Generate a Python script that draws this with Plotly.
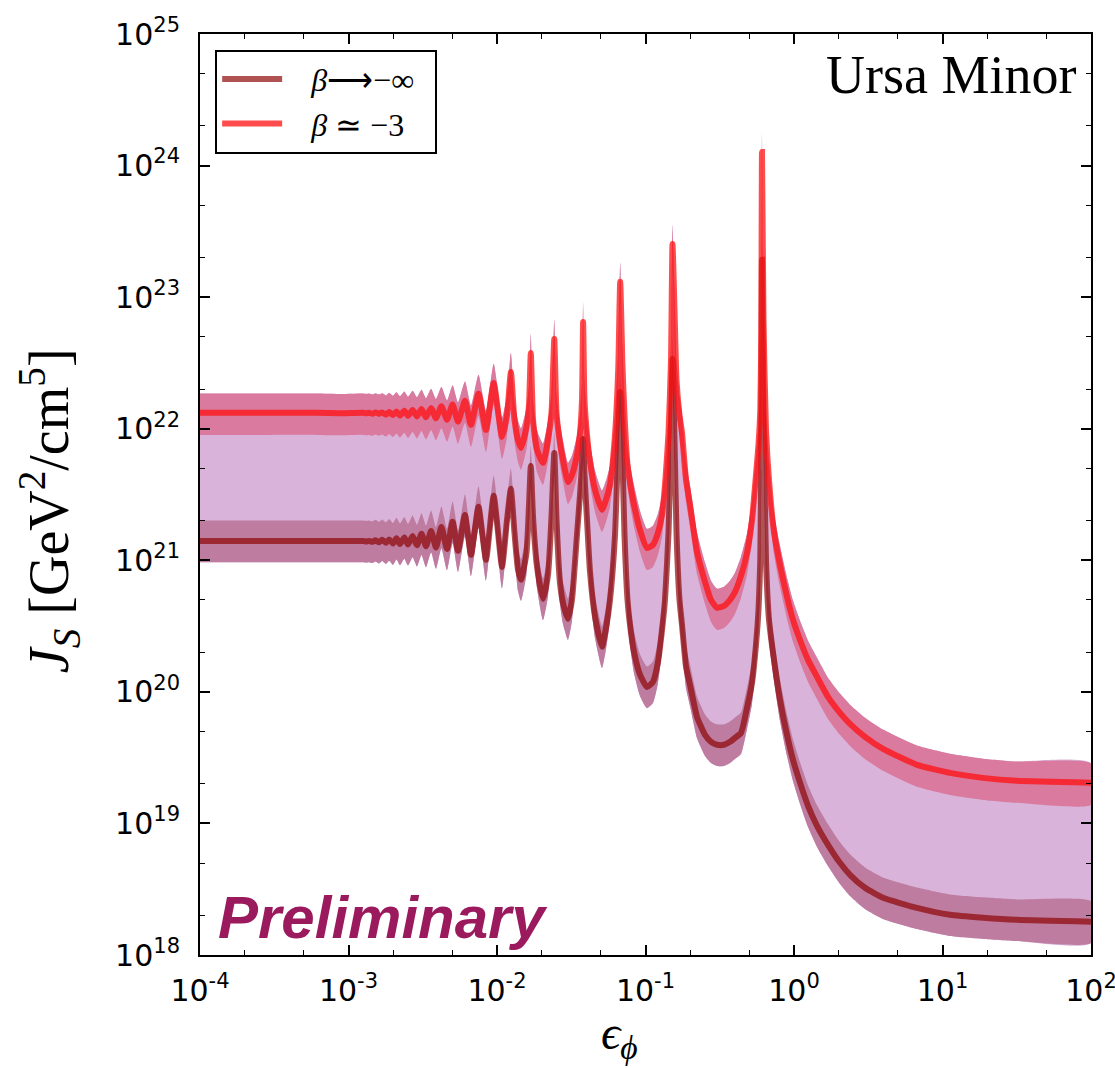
import plotly.graph_objects as go

# Sampling points in epsilon_phi (shared by both curves)
eps_phi = [1e-4, 3e-4, 6e-4, 9e-4, 1.26e-3, 1.31e-3, 1.38e-3, 1.45e-3, 1.52e-3, 1.605e-3,
           1.684e-3, 1.789e-3, 1.877e-3, 1.994e-3, 2.104e-3, 2.222e-3, 2.376e-3, 2.516e-3,
           2.702e-3, 2.892e-3, 3.102e-3, 3.325e-3, 3.599e-3, 3.883e-3, 4.222e-3, 4.606e-3,
           5.024e-3, 5.463e-3, 6.087e-3, 6.68e-3, 7.505e-3, 8.43e-3, 9.50e-3, 1.081e-2,
           1.168e-2, 1.240e-2, 1.311e-2, 1.385e-2, 1.451e-2, 1.580e-2, 1.643e-2, 1.689e-2,
           1.748e-2, 1.860e-2, 2.041e-2, 2.205e-2, 2.328e-2, 2.431e-2, 2.516e-2, 2.655e-2,
           2.782e-2, 3.006e-2, 3.198e-2, 3.456e-2, 3.622e-2, 3.736e-2, 3.80e-2, 3.883e-2,
           4.037e-2, 4.229e-2, 4.570e-2, 5.094e-2, 5.42e-2, 5.767e-2, 6.232e-2, 6.559e-2,
           6.755e-2, 7.0e-2, 7.221e-2, 7.564e-2, 7.862e-2, 8.37e-2, 9.18e-2, 0.1023, 0.1123,
           0.1214, 0.1292, 0.1353, 0.1429, 0.1485, 0.1520, 0.1568, 0.1617, 0.1694, 0.1761,
           0.1874, 0.1994, 0.2222, 0.2516, 0.2761, 0.3030, 0.3378, 0.3707, 0.4006, 0.4396,
           0.4826, 0.5215, 0.5548, 0.5767, 0.5931, 0.6023, 0.6088, 0.6231, 0.6477, 0.6786,
           0.7333, 0.8050, 0.8973, 0.9847, 1.098, 1.243, 1.429, 1.694, 2.04, 2.383, 3.007,
           3.974, 6.735, 11.23, 18.74, 31.74, 100]

# J_S for beta -> -infinity
js_beta_inf = [1.40e21, 1.40e21, 1.40e21, 1.40e21, 1.40e21, 1.39e21, 1.40e21, 1.38e21, 1.42e21,
               1.37e21, 1.43e21, 1.36e21, 1.44e21, 1.34e21, 1.47e21, 1.33e21, 1.49e21, 1.32e21,
               1.53e21, 1.30e21, 1.59e21, 1.28e21, 1.67e21, 1.25e21, 1.79e21, 1.22e21, 1.96e21,
               1.18e21, 2.21e21, 1.10e21, 2.55e21, 1.01e21, 3.09e21, 8.9e20, 2.03e21, 3.49e21,
               1.62e21, 8.45e20, 7.1e20, 1.14e21, 2.64e21, 5.21e21, 2.14e21, 8.9e20, 5.09e20,
               7.74e20, 2.14e21, 6.55e21, 2.03e21, 6.74e20, 4.75e20, 3.59e20, 5.0e20, 1.56e21,
               3.14e21, 5.31e21, 8.37e21, 4.46e21, 2.03e21, 8.17e20, 3.72e20, 2.2e20, 3.06e20,
               5.0e20, 1.56e21, 8.2e21, 1.90e22, 5.79e21, 1.56e21, 5.0e20, 3.23e20, 2.01e20,
               1.35e20, 1.09e20, 1.19e20, 1.69e20, 2.96e20, 5.0e20, 1.62e21, 8.2e21, 3.39e22,
               8.2e21, 1.62e21, 5.0e20, 3.23e20, 1.55e20, 1.13e20, 6.46e19, 4.71e19, 4.17e19,
               3.96e19, 3.96e19, 4.17e19, 4.47e19, 4.88e19, 7.56e19, 1.17e20, 2.28e20, 4.2e20,
               1.01e21, 6.9e21, 1.92e23, 1.17e22, 1.01e21, 3.53e20, 1.75e20, 8.7e19, 4.71e19,
               3.04e19, 2.04e19, 1.36e19, 9.6e18, 6.88e18, 5.02e18, 4.07e18, 3.24e18, 2.72e18,
               2.28e18, 2.02e18, 1.92e18, 1.85e18, 1.79e18]

# J_S for beta ~ -3
js_beta_3 = [1.32e22, 1.32e22, 1.32e22, 1.31e22, 1.32e22, 1.31e22, 1.32e22, 1.30e22, 1.33e22,
             1.30e22, 1.33e22, 1.28e22, 1.34e22, 1.27e22, 1.35e22, 1.26e22, 1.37e22, 1.25e22,
             1.39e22, 1.24e22, 1.41e22, 1.22e22, 1.44e22, 1.20e22, 1.48e22, 1.17e22, 1.53e22,
             1.13e22, 1.63e22, 1.07e22, 1.84e22, 9.8e21, 2.23e22, 8.66e21, 1.27e22, 2.70e22,
             1.17e22, 8.2e21, 7.15e21, 1.03e22, 1.52e22, 3.77e22, 1.17e22, 6.9e21, 5.5e21,
             8.2e21, 1.32e22, 4.81e22, 1.32e22, 7.8e21, 5.79e21, 3.94e21, 4.46e21, 6.32e21,
             9.3e21, 1.66e22, 6.48e22, 1.66e22, 8.97e21, 5.6e21, 3.43e21, 2.42e21, 2.88e21,
             3.74e21, 8.97e21, 2.95e22, 1.31e23, 2.95e22, 1.27e22, 5.31e21, 3.87e21, 2.64e21,
             1.70e21, 1.24e21, 1.31e21, 1.62e21, 2.21e21, 3.74e21, 9.3e21, 3.33e22, 2.54e23,
             8.0e22, 2.35e22, 1.27e22, 9.3e21, 4.08e21, 2.64e21, 1.16e21, 6.86e20, 5.0e20,
             4.35e20, 4.50e20, 5.0e20, 5.75e20, 7.61e20, 1.14e21, 2.03e21, 4.46e21, 7.54e21,
             1.39e22, 5.64e22, 1.27e24, 6.71e22, 9.8e21, 4.08e21, 1.64e21, 9.2e20, 5.27e20,
             3.53e20, 2.48e20, 1.75e20, 1.30e20, 9.16e19, 6.93e19, 5.71e19, 4.55e19, 3.69e19,
             2.79e19, 2.42e19, 2.22e19, 2.11e19, 2.04e19]

# Multiplicative uncertainty band (lower, upper) for each case
band_beta_inf = (0.69, 1.43)
band_beta_3 = (0.68, 1.40)

x_ticks = [1e-4, 1e-3, 1e-2, 1e-1, 1e0, 1e1, 1e2]
x_ticktext = ["10<sup>-4</sup>", "10<sup>-3</sup>", "10<sup>-2</sup>", "10<sup>-1</sup>",
              "10<sup>0</sup>", "10<sup>1</sup>", "10<sup>2</sup>"]
y_ticks = [1e18, 1e19, 1e20, 1e21, 1e22, 1e23, 1e24, 1e25]
y_ticktext = ["10<sup>18</sup>", "10<sup>19</sup>", "10<sup>20</sup>", "10<sup>21</sup>",
              "10<sup>22</sup>", "10<sup>23</sup>", "10<sup>24</sup>", "10<sup>25</sup>"]

LAVENDER = "#d9b3d9"
BAND_INF = "#be7ca0"
BAND_3 = "#d97a9e"
LINE_INF = "rgba(139,0,0,0.68)"
LINE_3 = "rgba(255,15,15,0.74)"
SERIF = "Liberation Serif"
NBSP = "\u00a0"
CURVE = dict(shape="spline", smoothing=0.5)

lo_inf = [v * band_beta_inf[0] for v in js_beta_inf]
hi_inf = [v * band_beta_inf[1] for v in js_beta_inf]
lo_3 = [v * band_beta_3[0] for v in js_beta_3]
hi_3 = [v * band_beta_3[1] for v in js_beta_3]
x_loop = eps_phi + eps_phi[::-1]

fig = go.Figure()

# envelope spanning both uncertainty bands, then the two bands on top
for y_loop, color in [(hi_3 + lo_inf[::-1], LAVENDER),
                      (hi_inf + lo_inf[::-1], BAND_INF),
                      (hi_3 + lo_3[::-1], BAND_3)]:
    fig.add_trace(go.Scatter(x=x_loop, y=y_loop, fill="toself", fillcolor=color,
                             line=dict(width=0, **CURVE), mode="lines", showlegend=False,
                             hoverinfo="skip"))

fig.add_trace(go.Scatter(x=eps_phi, y=js_beta_inf, mode="lines",
                         name=NBSP * 3 + "<i>β</i>⟶−∞" + NBSP * 2,
                         line=dict(color=LINE_INF, width=6, **CURVE)))
fig.add_trace(go.Scatter(x=eps_phi, y=js_beta_3, mode="lines",
                         name=NBSP * 3 + "<i>β</i> ≃ −3",
                         line=dict(color=LINE_3, width=6, **CURVE)))

axis_common = dict(
    type="log", showgrid=False, zeroline=False, showline=True, linecolor="black",
    linewidth=2, mirror="allticks", ticks="inside", ticklen=10, tickwidth=1.5,
    tickcolor="black", tickfont=dict(family="DejaVu Sans", size=30, color="black"),
    ticklabeloverflow="allow", automargin=False,
    minor=dict(ticks="inside", ticklen=5, tickwidth=1.2, tickcolor="black", showgrid=False),
)

fig.update_xaxes(range=[-4, 2], tickvals=x_ticks, ticktext=x_ticktext,
                 ticklabelstandoff=8, **axis_common)
fig.update_yaxes(range=[18, 25], tickvals=y_ticks, ticktext=y_ticktext,
                 ticklabelstandoff=12, **axis_common)

# axis titles
fig.add_annotation(text="<i>ϵ</i><sub><i>ϕ</i></sub>", xref="paper", yref="paper",
                   x=0.471, y=-0.088, xanchor="center", yanchor="middle", showarrow=False,
                   font=dict(family=SERIF, size=48, color="black"))
fig.add_annotation(text="<i>J</i><sub><i>S</i></sub> [GeV<sup>2</sup>/cm<sup>5</sup>]",
                   xref="paper", yref="paper", x=-0.1695, y=0.483, textangle=-90,
                   xanchor="center", yanchor="middle", showarrow=False,
                   font=dict(family=SERIF, size=56, color="black"))

fig.add_annotation(text="Ursa Minor", xref="paper", yref="paper", x=0.985, y=0.99,
                   xanchor="right", yanchor="top", showarrow=False,
                   font=dict(family=SERIF, size=54, color="black"))
fig.add_annotation(text="<b><i>Preliminary</i></b>", xref="paper", yref="paper", x=0.018,
                   y=0.002, xanchor="left", yanchor="bottom", showarrow=False,
                   font=dict(family="Liberation Sans", size=60, color="#9b1a5e"))

fig.update_layout(
    width=1115, height=1068, autosize=False,
    margin=dict(l=200, r=24, t=34, b=113),
    paper_bgcolor="white", plot_bgcolor="white",
    legend=dict(x=0.017, y=0.983, xanchor="left", yanchor="top", bgcolor="white",
                bordercolor="black", borderwidth=2, itemwidth=60,
                font=dict(family=SERIF, size=32, color="black")),
)

fig.write_html("out.html")
